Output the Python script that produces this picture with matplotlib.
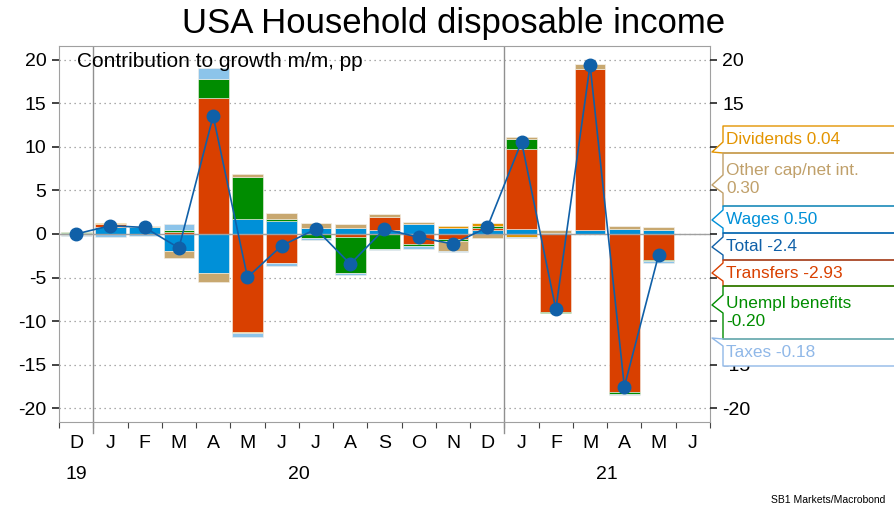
import matplotlib
matplotlib.use("Agg")
import matplotlib.pyplot as plt
import numpy as np
from matplotlib.lines import Line2D
from matplotlib.patches import Polygon
from matplotlib.transforms import blended_transform_factory

plt.rcParams['font.family'] = ['Liberation Sans', 'DejaVu Sans']
plt.rcParams['axes.unicode_minus'] = False

# months Dec 2019 .. May 2021 (Jun 2021 shown empty)
months = ['D', 'J', 'F', 'M', 'A', 'M', 'J', 'J', 'A', 'S', 'O', 'N',
          'D', 'J', 'F', 'M', 'A', 'M', 'J']
years = ['19', '20', '21']
yticks = [-20, -15, -10, -5, 0, 5, 10, 15, 20]

wages = [0.15, 0.85, 0.77, -2.0, -4.45, 1.69, 1.49, 0.73, 0.70, 0.42, 1.10, 0.65,
         0.46, 0.54, 0.10, 0.46, 0.54, 0.50]
transfers = [0.0, 0.25, 0.0, 0.2, 15.6, -11.3, -3.3, 0.0, -0.35, 1.5, -1.1, -0.61,
             0.28, 9.2, -8.93, 18.5, -18.1, -2.93]
unempl = [0.1, 0.0, 0.0, 0.25, 2.2, 4.9, 0.23, -0.42, -4.1, -1.72, -0.23, -0.19,
          0.23, 1.19, -0.19, 0.0, -0.27, -0.20]
other_cap = [-0.15, 0.0, 0.2, -0.8, -1.03, 0.27, 0.65, 0.5, 0.5, 0.42, 0.23, -1.1,
             -0.42, 0.23, 0.35, 0.57, 0.38, 0.30]
dividends = [0.0, 0.15, 0.0, 0.0, 0.0, -0.1, 0.0, 0.0, 0.0, 0.0, 0.0, 0.25,
             0.27, -0.3, 0.0, 0.0, 0.0, 0.04]
taxes = [-0.1, -0.3, -0.2, 0.7, 1.26, -0.38, -0.38, -0.25, -0.27, -0.1, -0.4, -0.12,
         0.0, -0.2, 0.0, 0.0, -0.15, -0.18]
total = [0.0, 0.96, 0.75, -1.6, 13.56, -4.98, -1.34, 0.57, -3.45, 0.57, -0.38, -1.15,
         0.77, 10.6, -8.66, 19.43, -17.55, -2.4]

series = [
    ('Wages', wages, '#0090d8'),
    ('Transfers', transfers, '#d94000'),
    ('Unempl benefits', unempl, '#008c00'),
    ('Other cap/net int.', other_cap, '#c8a870'),
    ('Dividends', dividends, '#e39400'),
    ('Taxes', taxes, '#8cc4ea'),
]

W, H = 895, 507
fig = plt.figure(figsize=(W / 100, H / 100), dpi=100)
ax = fig.add_axes([59 / W, 85 / H, 651 / W, 376 / H])

x = np.arange(len(total))
pos_base = np.zeros(len(x))
neg_base = np.zeros(len(x))
for name, vals, col in series:
    v = np.array(vals)
    b = np.where(v >= 0, pos_base, neg_base)
    ax.bar(x, v, width=0.9, bottom=b, color=col, edgecolor='#f4efe6', linewidth=0.4, zorder=2)
    pos_base += np.where(v >= 0, v, 0)
    neg_base += np.where(v < 0, v, 0)

ax.axhline(0, color='#a0a0a0', lw=1, zorder=2.5)
ax.plot(x, total, color='#1060a8', lw=1.2, marker='o', markersize=9, zorder=3)

for xb in [0.5, 12.5]:
    ax.axvline(xb, color='#909090', lw=1, zorder=1)

ax.set_xlim(-0.5, len(months) - 0.5)
ax.set_ylim(-21.6, 21.6)
ax.set_yticks(yticks)
ax.yaxis.grid(True, linestyle=(0, (1, 3)), color='#909090', lw=0.9)
ax.set_axisbelow(True)
ax.tick_params(axis='y', left=True, right=False, labelsize=14, length=5, width=1.2,
               color='#222222', pad=4)

# right axis: labels 10..-10 sit under the callout boxes
ax2 = ax.twinx()
ax2.set_ylim(ax.get_ylim())
ax2.set_yticks(yticks)
ax2.set_yticklabels([str(t) if abs(t) > 10 else '' for t in yticks])
ax2.tick_params(axis='y', labelsize=14, length=5, width=1.2, color='#222222', pad=4)
for s in ax2.spines.values():
    s.set_visible(False)

ax.set_xticks(np.arange(-0.5, len(months), 1))
ax.set_xticklabels([])
ax.set_xticks(x.tolist() + [len(months) - 1], minor=True)
ax.set_xticklabels(months, minor=True)
ax.tick_params(axis='x', which='major', length=4, color='#444444')
ax.tick_params(axis='x', which='minor', length=0, labelsize=14, pad=9)

tr = blended_transform_factory(ax.transData, ax.transAxes)
for xb in [0.5, 12.5]:
    ax.add_line(Line2D([xb, xb], [0, -0.03], transform=tr, color='#909090', lw=1, clip_on=False))
for yr, xc in zip(years, [0, 6.5, 15.5]):
    ax.text(xc, -0.14, yr, transform=tr, ha='center', va='center', fontsize=14)

for s in ax.spines.values():
    s.set_color('#a0a0a0')

ax.text(0.027, 0.958, 'Contribution to growth m/m, pp', transform=ax.transAxes,
        fontsize=15, va='center', ha='left')
fig.text(454 / W, 1 - 23 / H, 'USA Household disposable income', ha='center', va='center', fontsize=25)
fig.text(885 / W, 1 - 500 / H, 'SB1 Markets/Macrobond', ha='right', va='center', fontsize=7.5)

# right-hand callout labels
labels = ['Dividends 0.04', 'Other cap/net int.\n0.30', 'Wages 0.50', 'Total -2.4',
          'Transfers -2.93', 'Unempl benefits\n-0.20', 'Taxes -0.18']
label_cols = ['#e39400', '#c0a06a', '#0090d8', '#1060a8', '#d94000', '#008c00', '#90b8e8']
tops = [126, 153, 206, 233, 260, 286, 339]
bottoms = [153, 206, 233, 260, 286, 339, 366]
tips = [152, 185, 220, 247, 273, 305, 338]


def P(px, py):
    return px / W, 1 - py / H


for lab, col, yt, yb, yp in zip(labels, label_cols, tops, bottoms, tips):
    up = max(yt, yp - 10)
    lo = min(yb, yp + 8)
    xs = [W, 723, 723, 712, 723, 723, W]
    ys = [yt, yt, up, yp, lo, yb, yb]
    pts = [P(a, b) for a, b in zip(xs, ys)]
    fig.add_artist(Polygon(pts, closed=True, facecolor='white', edgecolor='none',
                           transform=fig.transFigure, zorder=5))
    fig.add_artist(Line2D([p[0] for p in pts], [p[1] for p in pts], color=col, lw=1,
                          transform=fig.transFigure, zorder=6))
    fig.text(726 / W, 1 - (yt + yb) / 2 / H, lab, color=col, fontsize=12.4,
             ha='left', va='center', linespacing=1.3, zorder=7)

fig.savefig('out.png', dpi=100)
